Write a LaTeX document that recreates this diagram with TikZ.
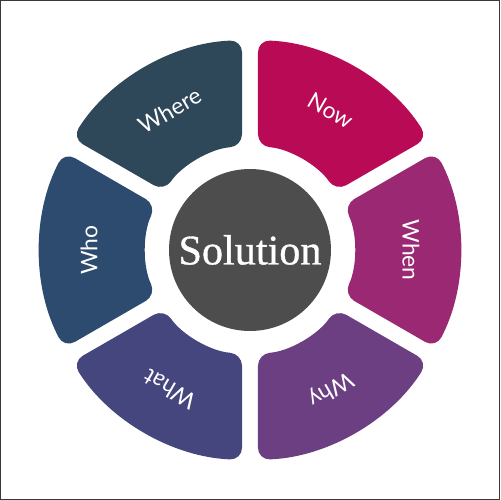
\documentclass[tikz,border=0pt]{standalone}
\usepackage{fontspec}
\usepackage{xcolor}
\usepackage{tikz}
\setmainfont{Liberation Serif}
\newfontfamily\labelfont{Lato}
\newfontfamily\hubfont[FakeBold=0.8]{Liberation Serif}
\definecolor{nowcol}{HTML}{B80A55}
\definecolor{whencol}{HTML}{9A2872}
\definecolor{whycol}{HTML}{6B3F82}
\definecolor{whatcol}{HTML}{46467E}
\definecolor{whocol}{HTML}{2D4B6E}
\definecolor{wherecol}{HTML}{2E4859}
\definecolor{hubcol}{HTML}{4D4D4D}
\definecolor{framecol}{HTML}{3A3A3A}

\begin{document}
\begin{tikzpicture}[x=0.02cm, y=0.02cm,
    seglabel/.style={text=white, font=\labelfont\fontsize{13}{15}\selectfont},
    hub/.style={circle, fill=hubcol, minimum size=3.24cm, inner sep=0pt,
        text=white, font=\hubfont\fontsize{24}{27}\selectfont}]
    \useasboundingbox (-250,-250) rectangle (250,250);

    % Cadre
    \draw[framecol, line width=1.1pt] (-249.5,-249.5) rectangle (249.5,249.5);

    % Secteurs
    \foreach \ang/\col/\txt in {60/nowcol/Now, 0/whencol/When, -60/whycol/Why,
                                -120/whatcol/What, 180/whocol/Who, 120/wherecol/Where}{
        \fill[\col, rounded corners=0.24cm]
            (\ang+27.82:210) arc[start angle=\ang+27.82, end angle=\ang-27.82, radius=210]
            -- (\ang-25.59:104) arc[start angle=\ang-25.59, end angle=\ang+25.59, radius=104]
            -- cycle;
        \node[seglabel, rotate=\ang-90] (lbl-\txt) at (\ang:161) {\txt};
    }

    % Centre
    \node[hub] (solution) at (0,0) {Solution};
\end{tikzpicture}
\end{document}
